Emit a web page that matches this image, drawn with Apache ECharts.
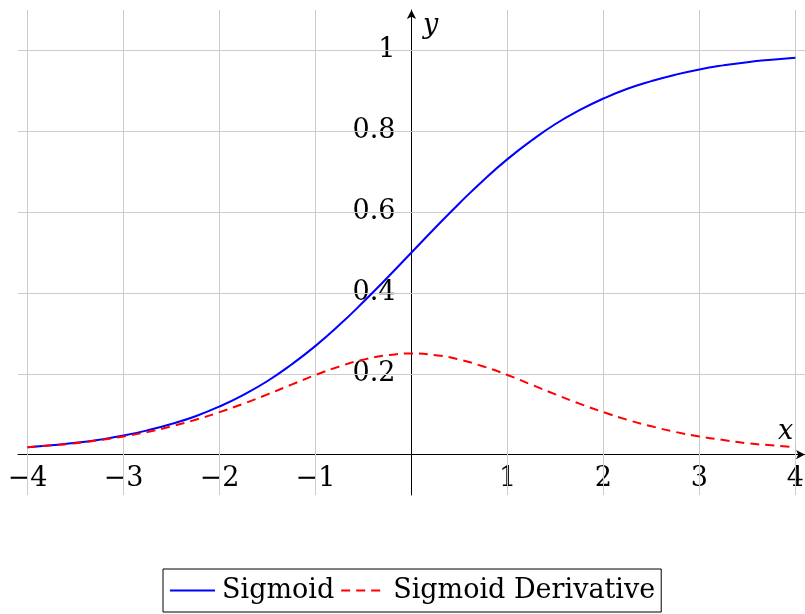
<!DOCTYPE html>
<html>
<head>
<meta charset="utf-8">
<script src="https://cdn.jsdelivr.net/npm/echarts@6/dist/echarts.min.js"></script>
<style>html,body{margin:0;padding:0;background:#fff;}#c{width:805px;height:614px;}</style>
</head>
<body>
<div id="c"></div>
<script>
const xs = [-4,-3.75,-3.5,-3.25,-3,-2.75,-2.5,-2.25,-2,-1.75,-1.5,-1.25,-1,-0.75,-0.5,-0.25,0,0.25,0.5,0.75,1,1.25,1.5,1.75,2,2.25,2.5,2.75,3,3.25,3.5,3.75,4];
const sigmoid = [0.018,0.023,0.029,0.037,0.047,0.060,0.076,0.095,0.119,0.148,0.182,0.223,0.269,0.321,0.378,0.438,0.500,0.562,0.622,0.679,0.731,0.777,0.818,0.852,0.881,0.905,0.924,0.940,0.953,0.963,0.971,0.977,0.982];
const derivative = [0.018,0.023,0.028,0.036,0.045,0.056,0.070,0.086,0.105,0.126,0.149,0.173,0.197,0.218,0.235,0.246,0.250,0.246,0.235,0.218,0.197,0.173,0.149,0.126,0.105,0.086,0.070,0.056,0.045,0.036,0.028,0.023,0.018];
const xTicks = [-4,-3,-2,-1,1,2,3,4];
const yTicks = [0.2,0.4,0.6,0.8,1];
const gridX = [-4,-3,-2,-1,1,2,3,4];
const gridY = [0.2,0.4,0.6,0.8,1];
const seriesNames = ['Sigmoid','Sigmoid Derivative'];

const FONT = '"DejaVu Serif", "Liberation Serif", serif';
const FS = 27;
const fmt = v => (v < 0 ? '\u2212' + Math.abs(v) : String(v));

const GL = 18, GR = 0, GT = 10, GB = 119, W = 805, H = 614;

const chart = echarts.init(document.getElementById('c'), null, {renderer:'canvas'});
chart.setOption({
  animation: false,
  backgroundColor: '#fff',
  grid: {left: GL, right: GR, top: GT, bottom: GB, containLabel: false, outerBoundsMode: 'none'},
  xAxis: {
    type: 'value', min: -4.1, max: 4.1,
    axisLine: {onZero: false, symbol: ['none','arrow'], symbolSize: [7,9], lineStyle: {color:'#000', width: 1}},
    axisTick: {show: true, customValues: xTicks, length: 5, inside: false, lineStyle:{color:'#999'}},
    axisLabel: {customValues: xTicks, formatter: fmt, color:'#000', fontFamily: FONT, fontSize: FS, margin: 11},
    splitLine: {show: false}
  },
  yAxis: {
    type: 'value', min: -0.1, max: 1.1,
    axisLine: {onZero: false, symbol: ['none','arrow'], symbolSize: [7,9], lineStyle: {color:'#000', width: 1}},
    axisTick: {show: true, customValues: yTicks, length: 5, inside: false, lineStyle:{color:'#999'}},
    axisLabel: {customValues: yTicks, formatter: v => String(+(+v).toFixed(1)), color:'#000', fontFamily: FONT, fontSize: FS, margin: 16},
    splitLine: {show: false}
  },
  legend: {
    bottom: 2, left: 163,
    data: seriesNames,
    borderColor: '#000', borderWidth: 1, borderRadius: 0,
    padding: [8, 6, 8, 6],
    itemWidth: 45, itemHeight: 14, itemGap: 6,
    itemStyle: {opacity: 0},
    textStyle: {fontFamily: FONT, fontSize: FS, color:'#000', padding: [0,0,0,2]}
  },
  graphic: [
    {type:'text', left: 423, top: 12, style:{text:'y', font:'italic ' + FS + 'px "DejaVu Serif", serif', fill:'#000'}},
    {type:'text', left: 778, top: 418, style:{text:'x', font:'italic ' + FS + 'px "DejaVu Serif", serif', fill:'#000'}}
  ],
  series: [
    {
      type: 'line', name: '__grid', data: [], z: 0, silent: true,
      markLine: {
        silent: true, symbol: 'none', label: {show:false}, animation: false,
        lineStyle: {color:'#cccccc', width: 1, type: 'solid'},
        data: gridX.map(v => ({xAxis: v})).concat(gridY.map(v => ({yAxis: v})))
      }
    },
    {
      type: 'line', name: seriesNames[0], data: xs.map((x,i)=>[x, sigmoid[i]]),
      smooth: true, showSymbol: false, symbol: 'none', z: 5,
      lineStyle: {color:'#0000ff', width: 2}, itemStyle:{color:'#0000ff'}
    },
    {
      type: 'line', name: seriesNames[1], data: xs.map((x,i)=>[x, derivative[i]]),
      smooth: true, showSymbol: false, symbol: 'none', z: 5,
      lineStyle: {color:'#ff0000', width: 2, type: [9,6]}, itemStyle:{color:'#ff0000'}
    }
  ]
});
// move axes to cross at the origin, using the library's own scales
const px0 = chart.convertToPixel({xAxisIndex: 0}, 0);
const py0 = chart.convertToPixel({yAxisIndex: 0}, 0);
chart.setOption({
  yAxis: {offset: -(px0 - GL)},
  xAxis: {offset: -((H - GB) - py0)}
});
</script>
</body>
</html>
